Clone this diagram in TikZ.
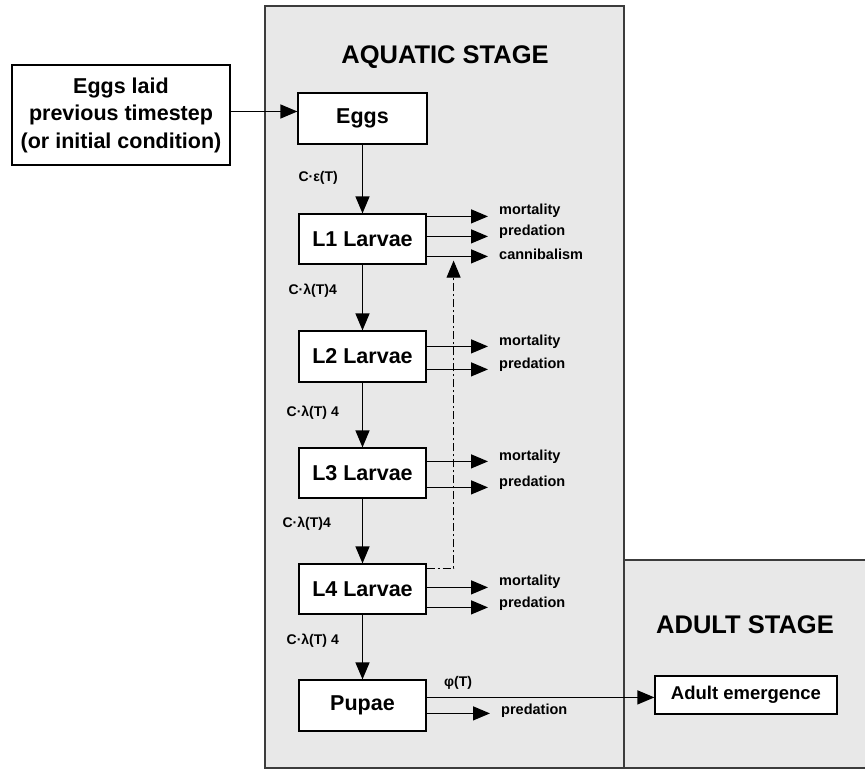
\documentclass[tikz,border=0pt]{standalone}
\usepackage{fontspec}
\setmainfont{Liberation Sans}
\usetikzlibrary{arrows.meta,calc}
\definecolor{stagegray}{HTML}{E8E8E8}
\definecolor{edgegray}{HTML}{3C3C3C}
\begin{document}
\begin{tikzpicture}[x=1pt,y=-1pt,
  box/.style={draw=black,line width=1.2pt,fill=white,inner sep=0pt,align=center,
    font=\bfseries\fontsize{21.5}{27.5}\selectfont},
  arr/.style={line width=1.3pt,-{Triangle[length=17pt,width=14pt]}},
  lab/.style={font=\bfseries\fontsize{14.5}{17}\selectfont,inner ysep=0pt,inner xsep=11pt,anchor=west},
  flab/.style={font=\bfseries\fontsize{14}{16}\selectfont,inner sep=0pt},
  title/.style={font=\bfseries\fontsize{25.5}{30}\selectfont,inner sep=0pt},
  dashdotline/.style={line width=1pt,dash pattern=on 8pt off 3pt on 2pt off 3pt}
]
\useasboundingbox (0,0) rectangle (865,770);
% stage panels
\draw[fill=stagegray,draw=edgegray,line width=1.6pt] (265,6) rectangle (624,768);
\draw[fill=stagegray,draw=edgegray,line width=1.6pt] (624,560) rectangle (872,768);
\node[title] (aqt) at (445,57) {AQUATIC STAGE};
\node[title] (adt) at (745,625) {ADULT STAGE};

% boxes
\node[box,minimum width=218pt,minimum height=100pt] (laid) at (121,115)
  {Eggs laid\\previous timestep\\(or initial condition)};
\node[box,minimum width=129pt,minimum height=51pt] (eggs) at (362.5,118.5) {Eggs};
\node[box,minimum width=127pt,minimum height=50pt] (L1) at (362.5,239) {L1 Larvae};
\node[box,minimum width=127pt,minimum height=51pt] (L2) at (362.5,356.5) {L2 Larvae};
\node[box,minimum width=127pt,minimum height=50pt] (L3) at (362.5,473) {L3 Larvae};
\node[box,minimum width=127pt,minimum height=50pt] (L4) at (362.5,589) {L4 Larvae};
\node[box,minimum width=127pt,minimum height=51pt] (pup) at (362.5,705.5) {Pupae};
\node[box,minimum width=182pt,minimum height=38pt,font=\bfseries\fontsize{18.5}{22}\selectfont] (ae) at (746,695) {Adult emergence};

% main chain
\coordinate (le) at ([yshift=3.5pt]laid.east);
\draw[arr] (le) -- (le -| eggs.west);
\draw[arr] (eggs) -- (L1);
\draw[arr] (L1) -- (L2);
\draw[arr] (L2) -- (L3);
\draw[arr] (L3) -- (L4);
\draw[arr] (L4) -- (pup);

% transition labels
\node[flab,anchor=east] (t1) at (338,178) {C·ε(T)};
\node[flab,anchor=east] (t2) at (337,291) {C·λ(T)4};
\node[flab,anchor=east] (t3) at (339,413) {C·λ(T) 4};
\node[flab,anchor=east] (t4) at (331,524) {C·λ(T)4};
\node[flab,anchor=east] (t5) at (339,641) {C·λ(T) 4};
\node[flab,anchor=west] (phi) at (444,683) {φ(T)};

% loss labels
\node[lab] (m1) at (488,211) {mortality};
\node[lab] (p1) at (488,232) {predation};
\node[lab] (c1) at (488,254) {cannibalism};
\node[lab] (m2) at (488,342) {mortality};
\node[lab] (p2) at (488,365) {predation};
\node[lab] (m3) at (488,457) {mortality};
\node[lab] (p3) at (488,483) {predation};
\node[lab] (m4) at (488,582) {mortality};
\node[lab] (p4) at (488,604) {predation};
\node[lab] (p5) at (490,711) {predation};

% loss arrows
\coordinate (a11) at ([yshift=-3pt]L1.north east);
\coordinate (a12) at ([yshift=-23pt]L1.north east);
\coordinate (a13) at ([yshift=-43pt]L1.north east);
\draw[arr] (a11) -- (a11 -| m1.west);
\draw[arr] (a12) -- (a12 -| p1.west);
\draw[arr] (a13) -- (a13 -| c1.west);
\coordinate (a21) at ([yshift=-16pt]L2.north east);
\coordinate (a22) at ([yshift=-39pt]L2.north east);
\draw[arr] (a21) -- (a21 -| m2.west);
\draw[arr] (a22) -- (a22 -| p2.west);
\coordinate (a31) at ([yshift=-14pt]L3.north east);
\coordinate (a32) at ([yshift=-40pt]L3.north east);
\draw[arr] (a31) -- (a31 -| m3.west);
\draw[arr] (a32) -- (a32 -| p3.west);
\coordinate (a41) at ([yshift=-24pt]L4.north east);
\coordinate (a42) at ([yshift=-44pt]L4.north east);
\draw[arr] (a41) -- (a41 -| m4.west);
\draw[arr] (a42) -- (a42 -| p4.west);
\coordinate (a52) at ([yshift=-34pt]pup.north east);
\draw[arr] (a52) -- (a52 -| p5.west);

% emergence
\coordinate (a51) at ([yshift=-18pt]pup.north east);
\draw[arr] (a51) -- (a51 -| ae.west);

% cannibalism feedback
\coordinate (d0) at ([yshift=-5pt]L4.north east);
\coordinate (dtop) at ([xshift=27pt,yshift=4pt]L1.south east);
\draw[dashdotline,arr,line width=1pt] (d0) -| (dtop);
\end{tikzpicture}
\end{document}
